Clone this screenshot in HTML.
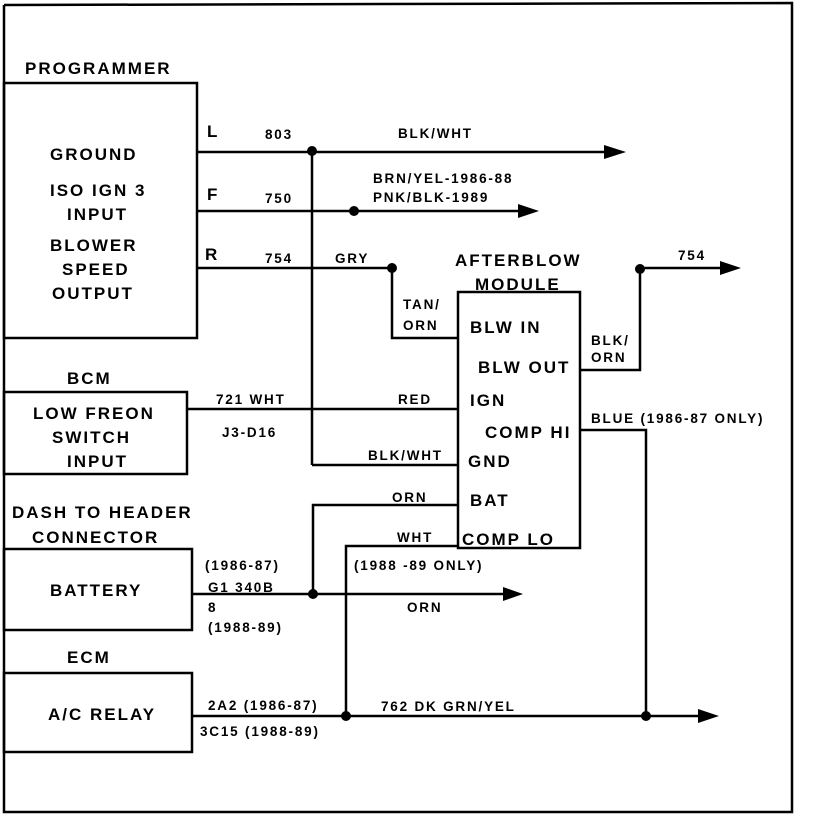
<!DOCTYPE html>
<html><head><style>
body{margin:0;background:#fff;}
svg text{font-family:"Liberation Sans",sans-serif;font-weight:bold;fill:#000;}
</style></head><body>
<svg width="816" height="816" viewBox="0 0 816 816" xmlns="http://www.w3.org/2000/svg">
<g fill="none" stroke="#000" stroke-width="2.5">
<polyline points="4,5 792,3 792,812 4,812 4,5"/>
<rect x="4" y="83" width="193" height="255"/>
<rect x="4" y="392" width="183" height="82"/>
<rect x="4" y="549" width="188" height="81"/>
<rect x="4" y="673" width="188" height="79"/>
<rect x="458" y="292" width="122" height="256"/>
<line x1="197" y1="152" x2="606" y2="152"/>
<line x1="312" y1="150" x2="312" y2="465"/>
<line x1="312" y1="465" x2="458" y2="465"/>
<line x1="197" y1="211" x2="520" y2="211"/>
<polyline points="197,268 392,268 392,338 458,338"/>
<line x1="187" y1="409" x2="458" y2="409"/>
<polyline points="580,370 640,370 640,268 722,268"/>
<polyline points="580,430 646,430 646,716"/>
<line x1="192" y1="594" x2="505" y2="594"/>
<polyline points="313,594 313,505 458,505"/>
<polyline points="346,716 346,546 458,546"/>
<line x1="192" y1="716" x2="700" y2="716"/>
</g>
<g fill="#000">
<polygon points="604,145 626,152 604,159"/>
<polygon points="518,204 539,211 518,218"/>
<polygon points="720,261 741,268 720,275"/>
<polygon points="503,587 523,594 503,601"/>
<polygon points="698,709 719,716 698,723"/>
<circle cx="312" cy="151" r="5"/>
<circle cx="354" cy="211" r="5"/>
<circle cx="392" cy="268" r="5"/>
<circle cx="640" cy="269" r="5"/>
<circle cx="313" cy="594" r="5"/>
<circle cx="346" cy="716" r="5"/>
<circle cx="646" cy="716" r="5"/>
</g>
<g font-size="17" letter-spacing="2">
<text x="25" y="74">PROGRAMMER</text>
<text x="50" y="160">GROUND</text>
<text x="50" y="196">ISO IGN 3</text>
<text x="67" y="220">INPUT</text>
<text x="50" y="251">BLOWER</text>
<text x="62" y="275">SPEED</text>
<text x="52" y="299">OUTPUT</text>
<text x="67" y="384">BCM</text>
<text x="33" y="419">LOW FREON</text>
<text x="52" y="443">SWITCH</text>
<text x="67" y="467">INPUT</text>
<text x="12" y="518">DASH TO HEADER</text>
<text x="32" y="543">CONNECTOR</text>
<text x="50" y="596">BATTERY</text>
<text x="67" y="663">ECM</text>
<text x="48" y="720">A/C RELAY</text>
<text x="455" y="266">AFTERBLOW</text>
<text x="475" y="290">MODULE</text>
<text x="470" y="333">BLW IN</text>
<text x="478" y="373">BLW OUT</text>
<text x="470" y="406">IGN</text>
<text x="485" y="438">COMP HI</text>
<text x="468" y="467">GND</text>
<text x="470" y="506">BAT</text>
<text x="462" y="545">COMP LO</text>
<text x="207" y="137">L</text>
<text x="207" y="200">F</text>
<text x="205" y="260">R</text>
</g>
<g font-size="13.5" letter-spacing="1.8">
<text x="265" y="139">803</text>
<text x="398" y="138">BLK/WHT</text>
<text x="373" y="183">BRN/YEL-1986-88</text>
<text x="373" y="202">PNK/BLK-1989</text>
<text x="265" y="203">750</text>
<text x="265" y="263">754</text>
<text x="335" y="263">GRY</text>
<text x="403" y="309">TAN/</text>
<text x="403" y="330">ORN</text>
<text x="678" y="260">754</text>
<text x="591" y="345">BLK/</text>
<text x="591" y="362">ORN</text>
<text x="591" y="423">BLUE (1986-87 ONLY)</text>
<text x="216" y="404">721 WHT</text>
<text x="222" y="437">J3-D16</text>
<text x="398" y="404">RED</text>
<text x="368" y="460">BLK/WHT</text>
<text x="392" y="502">ORN</text>
<text x="397" y="542">WHT</text>
<text x="354" y="570">(1988 -89 ONLY)</text>
<text x="205" y="570">(1986-87)</text>
<text x="208" y="592">G1  340B</text>
<text x="208" y="612">8</text>
<text x="208" y="632">(1988-89)</text>
<text x="407" y="612">ORN</text>
<text x="208" y="710">2A2 (1986-87)</text>
<text x="200" y="736">3C15 (1988-89)</text>
<text x="381" y="711">762 DK GRN/YEL</text>
</g>
</svg>
</body></html>
